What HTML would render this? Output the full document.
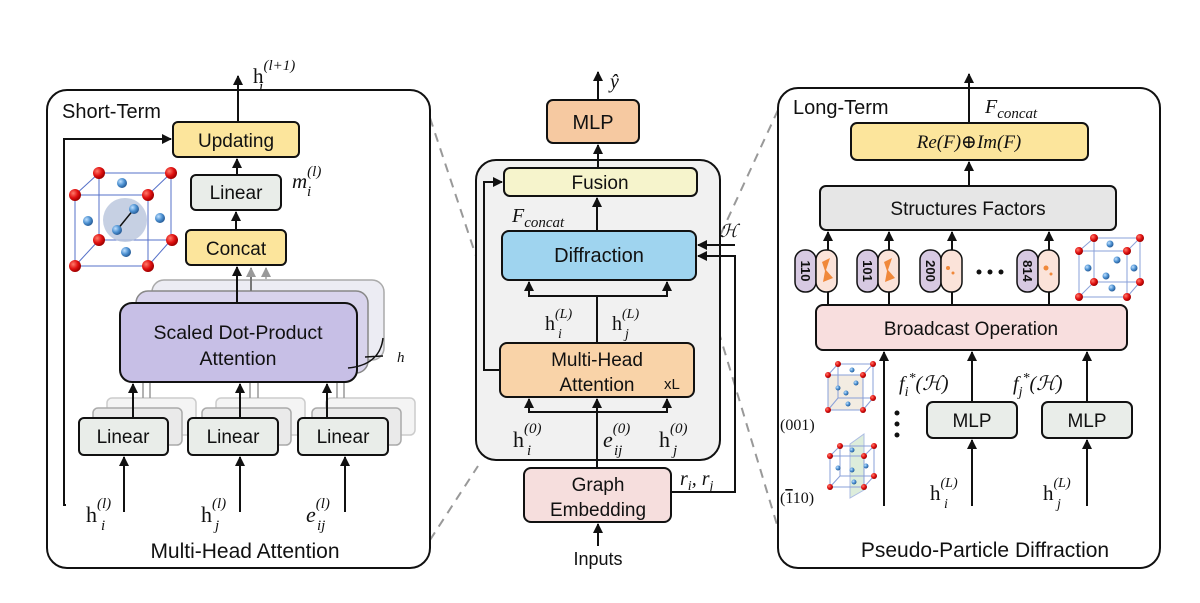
<!DOCTYPE html>
<html><head><meta charset="utf-8"><style>
html,body{margin:0;padding:0;background:#fff;}
svg{display:block;}
.s{font-family:"Liberation Sans",sans-serif;fill:#111;}
.m{font-family:"Liberation Serif","DejaVu Serif",serif;fill:#111;}
.mi{font-family:"Liberation Serif","DejaVu Serif",serif;font-style:italic;fill:#111;}
</style></head><body>
<svg width="1200" height="603" viewBox="0 0 1200 603" xmlns="http://www.w3.org/2000/svg">
<defs>
<marker id="a" viewBox="0 0 10 10" refX="9" refY="5" markerWidth="5" markerHeight="5" orient="auto-start-reverse"><path d="M0,0 L10,5 L0,10 z" fill="#111"/></marker>
<marker id="g" viewBox="0 0 10 10" refX="9" refY="5" markerWidth="5" markerHeight="5" orient="auto"><path d="M0,0 L10,5 L0,10 z" fill="#999"/></marker>
<radialGradient id="rd" cx="35%" cy="35%" r="65%"><stop offset="0" stop-color="#ff7a6a"/><stop offset="0.6" stop-color="#e01010"/><stop offset="1" stop-color="#a00000"/></radialGradient>
<radialGradient id="bl" cx="35%" cy="35%" r="65%"><stop offset="0" stop-color="#bfe0ff"/><stop offset="0.6" stop-color="#4a8fd0"/><stop offset="1" stop-color="#2a5f9a"/></radialGradient>
</defs>

<g stroke="#999" stroke-width="2" stroke-dasharray="9,7" fill="none">
<line x1="430" y1="118" x2="478" y2="262"/>
<line x1="430" y1="540" x2="478" y2="466"/>
<line x1="778" y1="110" x2="718" y2="240"/>
<line x1="700" y1="270" x2="778" y2="528"/>
</g>

<!-- LEFT PANEL -->
<rect x="47" y="90" width="383" height="478" rx="20" fill="#fff" stroke="#111" stroke-width="2"/>
<text x="62" y="118" class="s" font-size="20">Short-Term</text>
<line x1="238" y1="122" x2="238" y2="76" stroke="#111" stroke-width="2" marker-end="url(#a)"/>
<text x="253" y="83" class="m" font-size="21">h<tspan dy="-13" font-size="15" font-style="italic">(l+1)</tspan><tspan x="259" dy="21" font-size="15" font-style="italic">i</tspan></text>
<polyline points="66,505 64,505 64,139 171,139" fill="none" stroke="#111" stroke-width="2" marker-end="url(#a)"/>
<rect x="173" y="122" width="126" height="35" rx="5" fill="#fce59c" stroke="#111" stroke-width="2"/>
<text x="236" y="147" class="s" font-size="19" text-anchor="middle">Updating</text>
<line x1="237" y1="175" x2="237" y2="159" stroke="#111" stroke-width="2" marker-end="url(#a)"/>
<text x="292" y="188" class="mi" font-size="21">m<tspan dy="-12" font-size="15">(l)</tspan><tspan x="307" dy="20" font-size="15">i</tspan></text>
<rect x="191" y="175" width="90" height="35" rx="5" fill="#e9ede9" stroke="#111" stroke-width="2"/>
<text x="236" y="199" class="s" font-size="19" text-anchor="middle">Linear</text>
<line x1="236" y1="230" x2="236" y2="212" stroke="#111" stroke-width="2" marker-end="url(#a)"/>
<rect x="186" y="230" width="100" height="35" rx="5" fill="#fce59c" stroke="#111" stroke-width="2"/>
<text x="236" y="255" class="s" font-size="19" text-anchor="middle">Concat</text>
<rect x="152" y="280" width="232" height="80" rx="12" fill="#ececf3" stroke="#aaa" stroke-width="1.5"/>
<rect x="136" y="291" width="232" height="82" rx="12" fill="#d8d3ec" stroke="#888" stroke-width="1.5"/>
<line x1="251" y1="291" x2="251" y2="268" stroke="#777" stroke-width="2" marker-end="url(#g)"/>
<line x1="266" y1="280" x2="266" y2="268" stroke="#bbb" stroke-width="2" marker-end="url(#g)"/>
<line x1="237" y1="303" x2="237" y2="267" stroke="#111" stroke-width="2" marker-end="url(#a)"/>
<rect x="120" y="303" width="237" height="79" rx="12" fill="#c7bfe6" stroke="#111" stroke-width="2"/>
<text x="238" y="339" class="s" font-size="19.5" text-anchor="middle">Scaled Dot-Product</text>
<text x="238" y="365" class="s" font-size="19.5" text-anchor="middle">Attention</text>
<path d="M348,368 Q380,365 383,338 M365,357 L383,356" fill="none" stroke="#111" stroke-width="1.5"/>
<text x="397" y="362" class="mi" font-size="15">h</text>
<g stroke="#5570c8" stroke-width="1" fill="none">
<rect x="75" y="195" width="73" height="71"/><rect x="99" y="173" width="72" height="67"/>
<line x1="75" y1="195" x2="99" y2="173"/><line x1="148" y1="195" x2="171" y2="173"/><line x1="75" y1="266" x2="99" y2="240"/><line x1="148" y1="266" x2="171" y2="240"/>
</g>
<circle cx="125" cy="220" r="22" fill="#b8c4dc" opacity="0.8"/>
<line x1="117" y1="230" x2="134" y2="209" stroke="#111" stroke-width="1.5"/>
<g fill="url(#bl)"><circle cx="122" cy="183" r="5"/><circle cx="88" cy="221" r="5"/><circle cx="160" cy="218" r="5"/><circle cx="126" cy="252" r="5"/><circle cx="134" cy="209" r="5"/><circle cx="117" cy="230" r="5"/></g>
<g fill="url(#rd)"><circle cx="75" cy="195" r="6"/><circle cx="148" cy="195" r="6"/><circle cx="75" cy="266" r="6"/><circle cx="148" cy="266" r="6"/><circle cx="99" cy="173" r="6"/><circle cx="171" cy="173" r="6"/><circle cx="99" cy="240" r="6"/><circle cx="172" cy="240" r="6"/></g>
<g fill="#f4f4f4" stroke="#ccc" stroke-width="1.5">
<rect x="107" y="398" width="89" height="37" rx="5"/><rect x="216" y="398" width="89" height="37" rx="5"/><rect x="326" y="398" width="89" height="37" rx="5"/>
</g>
<g fill="#eaeaea" stroke="#aaa" stroke-width="1.5">
<rect x="93" y="408" width="89" height="37" rx="5"/><rect x="202" y="408" width="89" height="37" rx="5"/><rect x="312" y="408" width="89" height="37" rx="5"/>
</g>
<g stroke="#999" stroke-width="1.5"><line x1="143" y1="398" x2="143" y2="383"/><line x1="150" y1="398" x2="150" y2="383"/><line x1="250" y1="398" x2="250" y2="383"/><line x1="258" y1="398" x2="258" y2="383"/><line x1="337" y1="398" x2="337" y2="383"/><line x1="344" y1="398" x2="344" y2="383"/></g>
<g fill="#e9ede9" stroke="#111" stroke-width="2">
<rect x="79" y="418" width="89" height="37" rx="5"/><rect x="188" y="418" width="90" height="37" rx="5"/><rect x="298" y="418" width="90" height="37" rx="5"/>
</g>
<g class="s" font-size="19" text-anchor="middle"><text x="123" y="443">Linear</text><text x="233" y="443">Linear</text><text x="343" y="443">Linear</text></g>
<g stroke="#111" stroke-width="2">
<line x1="133" y1="418" x2="133" y2="384" marker-end="url(#a)"/><line x1="240" y1="418" x2="240" y2="384" marker-end="url(#a)"/><line x1="327" y1="418" x2="327" y2="384" marker-end="url(#a)"/>
<line x1="124" y1="512" x2="124" y2="457" marker-end="url(#a)"/><line x1="240" y1="512" x2="240" y2="457" marker-end="url(#a)"/><line x1="345" y1="512" x2="345" y2="457" marker-end="url(#a)"/>
</g>
<text x="86" y="522" class="m" font-size="22">h<tspan dy="-14" font-size="15" font-style="italic">(l)</tspan><tspan x="101" dy="22" font-size="15" font-style="italic">i</tspan></text>
<text x="201" y="522" class="m" font-size="22">h<tspan dy="-14" font-size="15" font-style="italic">(l)</tspan><tspan x="215" dy="22" font-size="15" font-style="italic">j</tspan></text>
<text x="306" y="522" class="mi" font-size="22">e<tspan dy="-14" font-size="15">(l)</tspan><tspan x="317" dy="22" font-size="15">ij</tspan></text>
<text x="245" y="558" class="s" font-size="21" text-anchor="middle">Multi-Head Attention</text>

<!-- MIDDLE -->
<line x1="598" y1="100" x2="598" y2="72" stroke="#111" stroke-width="2" marker-end="url(#a)"/>
<text x="610" y="88" class="mi" font-size="20">ŷ</text>
<rect x="547" y="100" width="92" height="43" rx="6" fill="#f6c9a1" stroke="#111" stroke-width="2"/>
<text x="593" y="129" class="s" font-size="20" text-anchor="middle">MLP</text>
<rect x="476" y="160" width="244" height="300" rx="20" fill="#f1f1f1" stroke="#111" stroke-width="2"/>
<line x1="598" y1="168" x2="598" y2="145" stroke="#111" stroke-width="2" marker-end="url(#a)"/>
<rect x="504" y="168" width="193" height="28" rx="6" fill="#f6f4cc" stroke="#111" stroke-width="2"/>
<text x="600" y="189" class="s" font-size="19" text-anchor="middle">Fusion</text>
<polyline points="500,370 484,370 484,182 502,182" fill="none" stroke="#111" stroke-width="2" marker-end="url(#a)"/>
<line x1="597" y1="231" x2="597" y2="198" stroke="#111" stroke-width="2" marker-end="url(#a)"/>
<text x="512" y="222" class="mi" font-size="20">F<tspan dy="5" font-size="15">concat</tspan></text>
<rect x="502" y="231" width="194" height="49" rx="7" fill="#9fd4ef" stroke="#111" stroke-width="2"/>
<text x="599" y="262" class="s" font-size="20" text-anchor="middle">Diffraction</text>
<polyline points="735,245 698,245" fill="none" stroke="#111" stroke-width="2" marker-end="url(#a)"/>
<text x="720" y="237" class="mi" font-size="18">ℋ</text>
<polyline points="671,492 735,492 735,256 698,256" fill="none" stroke="#111" stroke-width="2" marker-end="url(#a)"/>
<text x="680" y="485" class="mi" font-size="20">r<tspan dy="5" font-size="14">i</tspan><tspan dy="-5">, r</tspan><tspan dy="5" font-size="14">j</tspan></text>
<line x1="597" y1="343" x2="597" y2="296" stroke="#111" stroke-width="2"/>
<polyline points="529,282 529,296 667,296 667,282" fill="none" stroke="#111" stroke-width="2" marker-start="url(#a)" marker-end="url(#a)"/>
<text x="545" y="330" class="m" font-size="20">h<tspan dy="-12" font-size="14" font-style="italic">(L)</tspan><tspan x="558" dy="20" font-size="14" font-style="italic">i</tspan></text>
<text x="612" y="330" class="m" font-size="20">h<tspan dy="-12" font-size="14" font-style="italic">(L)</tspan><tspan x="625" dy="20" font-size="14" font-style="italic">j</tspan></text>
<rect x="500" y="343" width="194" height="54" rx="7" fill="#f9d3a8" stroke="#111" stroke-width="2"/>
<text x="597" y="366" class="s" font-size="19" text-anchor="middle">Multi-Head</text>
<text x="597" y="391" class="s" font-size="19" text-anchor="middle">Attention</text>
<text x="664" y="389" class="s" font-size="15">xL</text>
<line x1="597" y1="468" x2="597" y2="399" stroke="#111" stroke-width="2" marker-end="url(#a)"/>
<polyline points="529,399 529,412 667,412 667,399" fill="none" stroke="#111" stroke-width="2" marker-start="url(#a)" marker-end="url(#a)"/>
<text x="513" y="447" class="m" font-size="22">h<tspan dy="-14" font-size="15" font-style="italic">(0)</tspan><tspan x="527" dy="22" font-size="15" font-style="italic">i</tspan></text>
<text x="603" y="447" class="mi" font-size="22">e<tspan dy="-14" font-size="15">(0)</tspan><tspan x="614" dy="22" font-size="15">ij</tspan></text>
<text x="659" y="447" class="m" font-size="22">h<tspan dy="-14" font-size="15" font-style="italic">(0)</tspan><tspan x="673" dy="22" font-size="15" font-style="italic">j</tspan></text>
<rect x="524" y="468" width="147" height="54" rx="7" fill="#f6dedd" stroke="#111" stroke-width="2"/>
<text x="598" y="491" class="s" font-size="19" text-anchor="middle">Graph</text>
<text x="598" y="516" class="s" font-size="19" text-anchor="middle">Embedding</text>
<line x1="598" y1="546" x2="598" y2="524" stroke="#111" stroke-width="2" marker-end="url(#a)"/>
<text x="598" y="565" class="s" font-size="18" text-anchor="middle">Inputs</text>

<!-- RIGHT PANEL -->
<rect x="778" y="88" width="382" height="480" rx="20" fill="#fff" stroke="#111" stroke-width="2"/>
<text x="793" y="114" class="s" font-size="20">Long-Term</text>
<line x1="969" y1="123" x2="969" y2="74" stroke="#111" stroke-width="2" marker-end="url(#a)"/>
<text x="985" y="113" class="mi" font-size="20">F<tspan dy="5" font-size="15">concat</tspan></text>
<rect x="851" y="123" width="237" height="37" rx="6" fill="#fce59c" stroke="#111" stroke-width="2"/>
<text x="969" y="148" class="mi" font-size="19" text-anchor="middle">Re(F)⊕Im(F)</text>
<line x1="969" y1="186" x2="969" y2="162" stroke="#111" stroke-width="2" marker-end="url(#a)"/>
<rect x="820" y="186" width="296" height="44" rx="6" fill="#e6e6e6" stroke="#111" stroke-width="2"/>
<text x="968" y="215" class="s" font-size="19" text-anchor="middle">Structures Factors</text>
<g stroke="#111" stroke-width="2">
<line x1="828" y1="305" x2="828" y2="232" marker-end="url(#a)"/><line x1="889" y1="305" x2="889" y2="232" marker-end="url(#a)"/><line x1="952" y1="305" x2="952" y2="232" marker-end="url(#a)"/><line x1="1049" y1="305" x2="1049" y2="232" marker-end="url(#a)"/>
</g>
<g stroke="#111" stroke-width="1.5">
<rect x="795" y="250" width="21" height="42" rx="10" fill="#d7c9e2"/><rect x="816" y="250" width="21" height="42" rx="10" fill="#fbe3d9"/>
<rect x="857" y="250" width="21" height="42" rx="10" fill="#d7c9e2"/><rect x="878" y="250" width="21" height="42" rx="10" fill="#fbe3d9"/>
<rect x="920" y="250" width="21" height="42" rx="10" fill="#d7c9e2"/><rect x="941" y="250" width="21" height="42" rx="10" fill="#fbe3d9"/>
<rect x="1017" y="250" width="21" height="42" rx="10" fill="#d7c9e2"/><rect x="1038" y="250" width="21" height="42" rx="10" fill="#fbe3d9"/>
</g>
<g class="s" font-size="13" font-weight="bold" text-anchor="middle">
<text transform="translate(801,271) rotate(90)">110</text>
<text transform="translate(863,271) rotate(90)">101</text>
<text transform="translate(926,271) rotate(90)">200</text>
<text transform="translate(1023,271) rotate(90)">814</text>
</g>
<g fill="#f0883a"><path d="M822,262 L830,258 L826,270 L833,278 L823,282 L825,271z"/><path d="M884,262 L892,258 L888,270 L895,278 L885,282 L887,271z"/><circle cx="948" cy="268" r="2"/><circle cx="953" cy="273" r="1.5"/><circle cx="1046" cy="268" r="2.5"/><circle cx="1051" cy="274" r="1.5"/></g>
<g fill="#111"><circle cx="979" cy="272" r="2.5"/><circle cx="990" cy="272" r="2.5"/><circle cx="1001" cy="272" r="2.5"/></g>
<g stroke="#8aa0d8" stroke-width="1" fill="none">
<rect x="1079" y="251" width="48" height="46"/><rect x="1094" y="238" width="46" height="44"/>
<line x1="1079" y1="251" x2="1094" y2="238"/><line x1="1127" y1="251" x2="1140" y2="238"/><line x1="1079" y1="297" x2="1094" y2="282"/><line x1="1127" y1="297" x2="1140" y2="282"/>
</g>
<g fill="url(#bl)"><circle cx="1110" cy="244" r="3.5"/><circle cx="1088" cy="268" r="3.5"/><circle cx="1117" cy="260" r="3.5"/><circle cx="1134" cy="268" r="3.5"/><circle cx="1106" cy="276" r="3.5"/><circle cx="1112" cy="288" r="3.5"/></g>
<g fill="url(#rd)"><circle cx="1079" cy="251" r="4"/><circle cx="1127" cy="251" r="4"/><circle cx="1079" cy="297" r="4"/><circle cx="1127" cy="297" r="4"/><circle cx="1094" cy="238" r="4"/><circle cx="1140" cy="238" r="4"/><circle cx="1094" cy="282" r="4"/><circle cx="1140" cy="282" r="4"/></g>
<rect x="816" y="305" width="311" height="45" rx="7" fill="#f8dede" stroke="#111" stroke-width="2"/>
<text x="971" y="335" class="s" font-size="19" text-anchor="middle">Broadcast Operation</text>
<g stroke="#8aa0d8" stroke-width="1" fill="none">
<rect x="828" y="375" width="35" height="35" fill="#f3ece2"/><rect x="838" y="364" width="35" height="34"/>
<line x1="828" y1="375" x2="838" y2="364"/><line x1="863" y1="375" x2="873" y2="364"/><line x1="828" y1="410" x2="838" y2="398"/><line x1="863" y1="410" x2="873" y2="398"/>
<polygon points="850,444 864,434 864,490 850,498" fill="#cfe6cc" opacity="0.7"/>
<rect x="830" y="456" width="34" height="31"/><rect x="840" y="446" width="34" height="30"/>
<line x1="830" y1="456" x2="840" y2="446"/><line x1="864" y1="456" x2="874" y2="446"/><line x1="830" y1="487" x2="840" y2="476"/><line x1="864" y1="487" x2="874" y2="476"/>
</g>
<g fill="url(#bl)"><circle cx="852" cy="370" r="2.5"/><circle cx="838" cy="388" r="2.5"/><circle cx="846" cy="393" r="2.5"/><circle cx="856" cy="383" r="2.5"/><circle cx="848" cy="404" r="2.5"/><circle cx="852" cy="450" r="2.5"/><circle cx="838" cy="468" r="2.5"/><circle cx="852" cy="470" r="2.5"/><circle cx="866" cy="466" r="2.5"/><circle cx="854" cy="482" r="2.5"/></g>
<g fill="url(#rd)"><circle cx="828" cy="375" r="3"/><circle cx="863" cy="375" r="3"/><circle cx="828" cy="410" r="3"/><circle cx="863" cy="410" r="3"/><circle cx="838" cy="364" r="3"/><circle cx="873" cy="364" r="3"/><circle cx="873" cy="398" r="3"/><circle cx="830" cy="456" r="3"/><circle cx="864" cy="456" r="3"/><circle cx="830" cy="487" r="3"/><circle cx="864" cy="487" r="3"/><circle cx="840" cy="446" r="3"/><circle cx="874" cy="446" r="3"/><circle cx="874" cy="476" r="3"/></g>
<text x="780" y="430" class="m" font-size="16">(001)</text>
<text x="780" y="503" class="m" font-size="16">(<tspan text-decoration="overline">1</tspan>10)</text>
<line x1="884" y1="506" x2="884" y2="352" stroke="#111" stroke-width="2" marker-end="url(#a)"/>
<g fill="#111"><circle cx="897" cy="413" r="2.5"/><circle cx="897" cy="424" r="2.5"/><circle cx="897" cy="435" r="2.5"/></g>
<line x1="972" y1="402" x2="972" y2="352" stroke="#111" stroke-width="2" marker-end="url(#a)"/>
<line x1="1087" y1="402" x2="1087" y2="352" stroke="#111" stroke-width="2" marker-end="url(#a)"/>
<text x="899" y="390" class="mi" font-size="20">f<tspan dy="6" font-size="14">i</tspan><tspan dy="-14" font-size="14">*</tspan><tspan dy="8">(ℋ)</tspan></text>
<text x="1013" y="390" class="mi" font-size="20">f<tspan dy="6" font-size="14">j</tspan><tspan dy="-14" font-size="14">*</tspan><tspan dy="8">(ℋ)</tspan></text>
<rect x="927" y="402" width="90" height="36" rx="6" fill="#e9ede9" stroke="#111" stroke-width="2"/>
<rect x="1042" y="402" width="90" height="36" rx="6" fill="#e9ede9" stroke="#111" stroke-width="2"/>
<text x="972" y="427" class="s" font-size="19" text-anchor="middle">MLP</text>
<text x="1087" y="427" class="s" font-size="19" text-anchor="middle">MLP</text>
<line x1="972" y1="506" x2="972" y2="440" stroke="#111" stroke-width="2" marker-end="url(#a)"/>
<line x1="1087" y1="506" x2="1087" y2="440" stroke="#111" stroke-width="2" marker-end="url(#a)"/>
<text x="930" y="500" class="m" font-size="21">h<tspan dy="-13" font-size="14" font-style="italic">(L)</tspan><tspan x="944" dy="21" font-size="14" font-style="italic">i</tspan></text>
<text x="1043" y="500" class="m" font-size="21">h<tspan dy="-13" font-size="14" font-style="italic">(L)</tspan><tspan x="1057" dy="21" font-size="14" font-style="italic">j</tspan></text>
<text x="985" y="557" class="s" font-size="21" text-anchor="middle">Pseudo-Particle Diffraction</text>
</svg>
</body></html>
